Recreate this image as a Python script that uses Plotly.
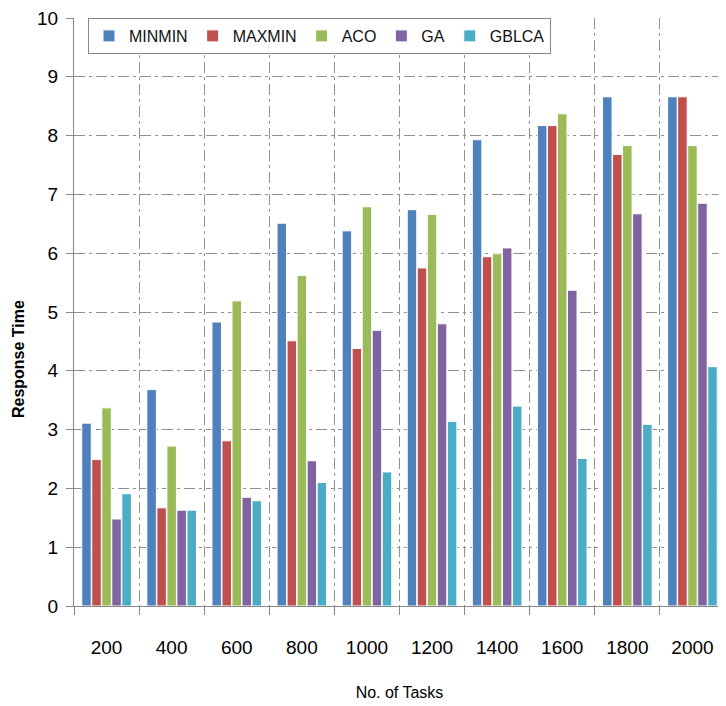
import plotly.graph_objects as go

tasks = ["200", "400", "600", "800", "1000", "1200", "1400", "1600", "1800", "2000"]
minmin = [3.11, 3.68, 4.83, 6.51, 6.38, 6.74, 7.93, 8.17, 8.66, 8.66]
maxmin = [2.49, 1.67, 2.81, 4.51, 4.38, 5.75, 5.94, 8.17, 7.68, 8.66]
aco    = [3.37, 2.72, 5.19, 5.62, 6.79, 6.66, 5.99, 8.37, 7.83, 7.83]
ga     = [1.48, 1.63, 1.85, 2.47, 4.69, 4.80, 6.09, 5.37, 6.67, 6.85]
gblca  = [1.91, 1.63, 1.79, 2.10, 2.28, 3.14, 3.40, 2.51, 3.09, 4.07]

series = [
    ("MINMIN", minmin, "#4F81BD"),
    ("MAXMIN", maxmin, "#C0504D"),
    ("ACO", aco, "#9BBB59"),
    ("GA", ga, "#8064A2"),
    ("GBLCA", gblca, "#4BACC6"),
]

FONT = "Liberation Sans, Arial"
GRID = "#909090"
DASH = "11px,4px,3px,4px"

fig = go.Figure()
for name, vals, col in series:
    fig.add_trace(go.Bar(
        x=tasks, y=vals, name=name,
        marker=dict(color=col, line=dict(color="white", width=1)),
    ))

fig.update_layout(
    width=718, height=698,
    margin=dict(l=66, r=1, t=10, b=100),
    paper_bgcolor="white", plot_bgcolor="white",
    barmode="group", bargap=0.23, bargroupgap=0.05,
    font=dict(family=FONT, size=19, color="#000000"),
    showlegend=True,
    legend=dict(
        orientation="h", x=0.0215, y=1.0, xanchor="left", yanchor="top",
        bgcolor="white", bordercolor="#888888", borderwidth=1,
        font=dict(family=FONT, size=16, color="#111111"),
        itemwidth=30, tracegroupgap=0,
    ),
    xaxis=dict(
        type="category", tickson="boundaries", automargin=False,
        showgrid=True, gridcolor=GRID, griddash=DASH, gridwidth=1.2,
        showline=True, linecolor="#888888", linewidth=1,
        ticks="outside", ticklen=8, tickcolor="#888888",
        ticklabelstandoff=24,
        tickfont=dict(family=FONT, size=19),
        title=dict(text="No. of Tasks", font=dict(family=FONT, size=16), standoff=30),
    ),
    yaxis=dict(
        range=[0, 10], dtick=1, automargin=False,
        showgrid=True, gridcolor=GRID, griddash=DASH, gridwidth=1.2,
        showline=True, linecolor="#888888", linewidth=1,
        ticks="outside", ticklen=7, tickcolor="#888888",
        ticklabelstandoff=4, ticklabeloverflow="allow",
        tickfont=dict(family=FONT, size=19),
        zeroline=False,
    ),
    annotations=[dict(
        text="<b>Response Time</b>", textangle=-90,
        xref="paper", yref="paper", x=-0.086, y=0.42,
        xanchor="center", yanchor="middle", showarrow=False,
        font=dict(family=FONT, size=16, color="#000000"),
    )],
)

fig.write_html("out.html")
